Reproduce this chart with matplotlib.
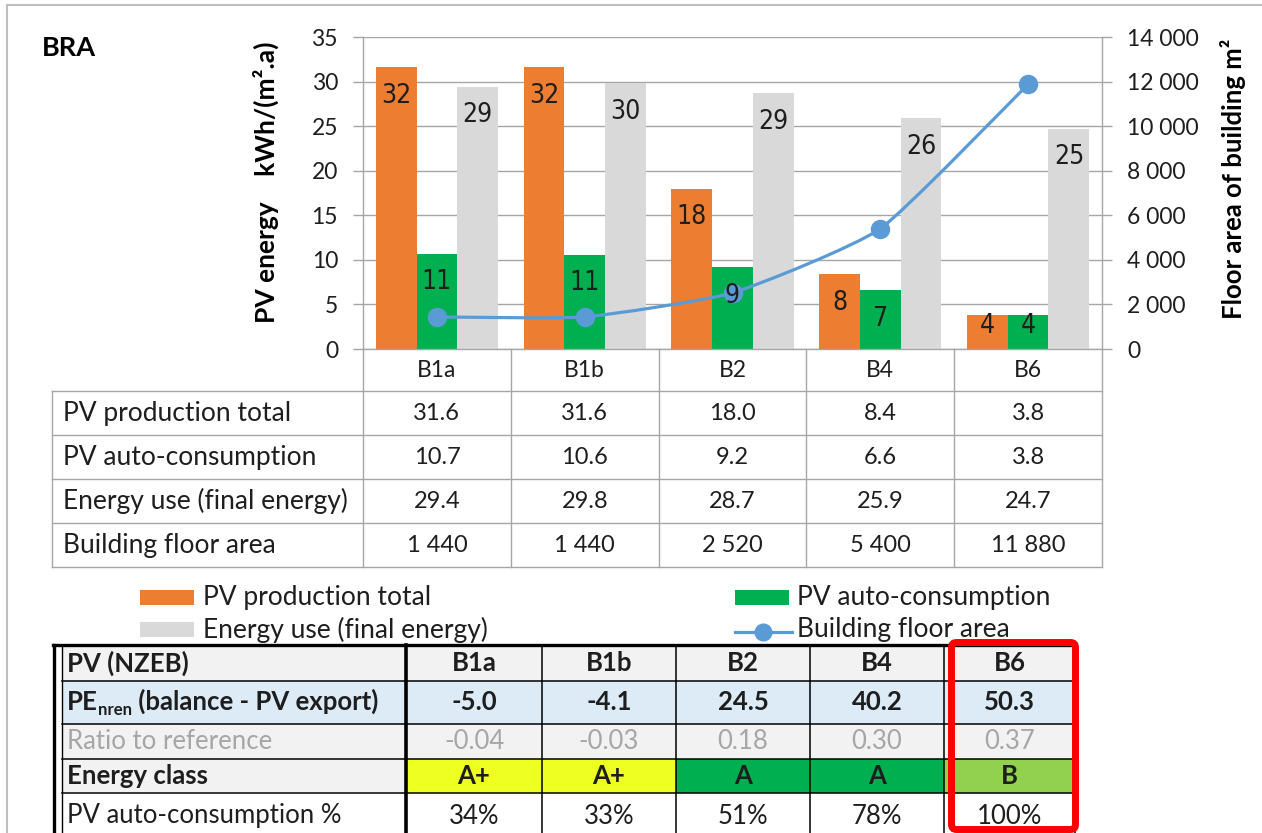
import numpy as np
import matplotlib
matplotlib.use('Agg')
import matplotlib.pyplot as plt
from matplotlib.patches import Rectangle, FancyBboxPatch, PathPatch
from matplotlib.path import Path
from matplotlib.ticker import FuncFormatter

# ---------------- data ----------------
categories = ['B1a', 'B1b', 'B2', 'B4', 'B6']
pv_total = [31.6, 31.6, 18.0, 8.4, 3.8]
pv_auto = [10.7, 10.6, 9.2, 6.6, 3.8]
energy_use = [29.4, 29.8, 28.7, 25.9, 24.7]
floor_area = [1440, 1440, 2520, 5400, 11880]
series_names = ['PV production total', 'PV auto-consumption',
                'Energy use (final energy)', 'Building floor area']
left_ticks = [0, 5, 10, 15, 20, 25, 30, 35]
right_ticks = [0, 2000, 4000, 6000, 8000, 10000, 12000, 14000]

nzeb_title = 'PV (NZEB)'
pe_nren = [-5.0, -4.1, 24.5, 40.2, 50.3]
ratio_ref = [-0.04, -0.03, 0.18, 0.30, 0.37]
energy_class = ['A+', 'A+', 'A', 'A', 'B']
auto_pct = [34, 33, 51, 78, 100]
class_colors = {'A+': '#EEFF22', 'A': '#00B050', 'B': '#92D050'}

ORANGE, GREEN, GREY, BLUE = '#ED7D31', '#00B050', '#D9D9D9', '#5B9BD5'
LINEGREY = '#A6A6A6'
TXT = '#1E1E1E'

plt.rcParams['font.family'] = ['Lato', 'DejaVu Sans']

W, H = 1262, 833
fig = plt.figure(figsize=(W / 100, H / 100), dpi=100)
fig.patch.set_facecolor('white')

AX_L, AX_R, AX_T, AX_B = 363, 1102, 37, 349
ax = fig.add_axes([AX_L / W, 1 - AX_B / H, (AX_R - AX_L) / W, (AX_B - AX_T) / H])

def thousands(v):
    return f"{int(round(v)):,}".replace(',', ' ')

x = np.arange(len(categories))
bw = 0.276
series = [(pv_total, ORANGE, -bw), (pv_auto, GREEN, 0.0), (energy_use, GREY, bw)]
for vals, col, off in series:
    ax.bar(x + off, vals, bw, color=col, zorder=2, linewidth=0)

ax.set_xlim(-0.5, len(categories) - 0.5)
ax.set_ylim(left_ticks[0], left_ticks[-1])
ax.set_yticks(left_ticks)
ax.set_xticks([])
ax.set_axisbelow(True)
ax.yaxis.grid(True, color=LINEGREY, linewidth=1.0)
for s in ['top', 'right']:
    ax.spines[s].set_visible(False)
for s in ['left', 'bottom']:
    ax.spines[s].set_color(LINEGREY)
    ax.spines[s].set_linewidth(1.0)
ax.tick_params(axis='y', direction='out', length=7, width=1, color=LINEGREY,
               pad=11, labelsize=16.5, labelcolor=TXT)

ax2 = ax.twinx()
ax2.set_ylim(right_ticks[0], right_ticks[-1])
ax2.set_yticks(right_ticks)
ax2.yaxis.set_major_formatter(FuncFormatter(lambda v, p: thousands(v)))
for s in ['top', 'left', 'bottom']:
    ax2.spines[s].set_visible(False)
ax2.spines['right'].set_color(LINEGREY)
ax2.spines['right'].set_linewidth(1.0)
ax2.tick_params(axis='y', direction='out', length=7, width=1, color=LINEGREY,
                pad=11, labelsize=16.5, labelcolor=TXT)
ax2.set_autoscale_on(False)

# smoothed line (cardinal spline -> cubic Bezier, computed in display space)
TENS = 1.0 / 12.0
pts = ax2.transData.transform(np.column_stack([x, floor_area]))
n = len(pts)
verts = [pts[0]]
codes = [Path.MOVETO]
for i in range(n - 1):
    p0 = pts[i - 1] if i > 0 else pts[i]
    p1, p2 = pts[i], pts[i + 1]
    p3 = pts[i + 2] if i + 2 < n else pts[i + 1]
    verts += [p1 + (p2 - p0) * TENS, p2 - (p3 - p1) * TENS, p2]
    codes += [Path.CURVE4] * 3
dverts = ax2.transData.inverted().transform(np.array(verts))
ax2.add_patch(PathPatch(Path(dverts, codes), fill=False, edgecolor=BLUE,
                        linewidth=2.3, zorder=3, capstyle='round'))
ax2.plot(x, floor_area, 'o', color=BLUE, markersize=13, zorder=4)

# bar value labels
for vals, col, off in series:
    for xi, v in zip(x, vals):
        yv = v - 3.2 if v >= 6 else v / 2 + 0.7
        ax2.text(xi + off, yv, f"{v:.0f}", transform=ax.transData,
                 ha='center', va='center', fontsize=19, family='DejaVu Sans',
                 fontstretch='condensed', color=TXT, zorder=10)

# ---------------- overlay in pixel coordinates ----------------
ov = fig.add_axes([0, 0, 1, 1])
ov.set_xlim(0, W)
ov.set_ylim(H, 0)
ov.axis('off')
ov.set_zorder(5)

# outer frame
ov.plot([7, 7], [5, H], color='#BFBFBF', lw=1.5)
ov.plot([7, W], [5, 5], color='#BFBFBF', lw=1.5)

ov.text(42, 48, 'BRA', fontsize=19.5, fontweight='bold', va='center', ha='left', color='black')
ov.text(266, 182, 'PV energy    kWh/(m\u00b2.a)', rotation=90, fontsize=19,
        fontweight='bold', ha='center', va='center', color='black')
ov.text(1233, 179, 'Floor area of building m\u00b2', rotation=90, fontsize=18.5,
        fontweight='bold', ha='center', va='center', color='black')

# data table under the chart
FS1 = 19
FSV = 17
ncat = len(categories)
xb = [AX_L + i * (AX_R - AX_L) / ncat for i in range(ncat + 1)]
row_y = [391, 435, 479, 523, 567]
TBL_L = 52
for xv in xb:
    ov.plot([xv, xv], [AX_B, row_y[-1]], color=LINEGREY, lw=1.0)
for yv in row_y:
    ov.plot([TBL_L, AX_R], [yv, yv], color=LINEGREY, lw=1.0)
ov.plot([TBL_L, TBL_L], [row_y[0], row_y[-1]], color=LINEGREY, lw=1.0)
for i, c in enumerate(categories):
    ov.text((xb[i] + xb[i + 1]) / 2, (AX_B + row_y[0]) / 2, c, ha='center',
            va='center', fontsize=16.5, color=TXT)
table_rows = [
    [f"{v:.1f}" for v in pv_total],
    [f"{v:.1f}" for v in pv_auto],
    [f"{v:.1f}" for v in energy_use],
    [thousands(v) for v in floor_area],
]
for r, (name, vals) in enumerate(zip(series_names, table_rows)):
    yc = (row_y[r] + row_y[r + 1]) / 2
    ov.text(63, yc, name, ha='left', va='center', fontsize=FS1, color=TXT)
    for i, s in enumerate(vals):
        ov.text((xb[i] + xb[i + 1]) / 2, yc, s, ha='center', va='center',
                fontsize=FSV, color=TXT)

# legend
ov.add_patch(Rectangle((140, 590), 54, 15, color=ORANGE, lw=0))
ov.text(203, 597, series_names[0], fontsize=FS1, va='center', color=TXT)
ov.add_patch(Rectangle((735, 590), 54, 15, color=GREEN, lw=0))
ov.text(797, 597, series_names[1], fontsize=FS1, va='center', color=TXT)
ov.add_patch(Rectangle((140, 622), 54, 15, color=GREY, lw=0))
ov.text(203, 630, series_names[2], fontsize=FS1, va='center', color=TXT)
ov.plot([735, 792], [632, 632], color=BLUE, lw=2.3)
ov.plot([763], [632], 'o', color=BLUE, markersize=12)
ov.text(797, 630, series_names[3], fontsize=FS1, va='center', color=TXT)

# bottom NZEB table
bx = [62, 406, 542, 676, 810, 944, 1075]
by = [645, 681, 724, 759, 793, 845]
row_bg = ['#F2F2F2', '#DDEBF7', '#F2F2F2', '#F2F2F2', 'white']
for r in range(5):
    for c in range(6):
        col = row_bg[r]
        if r == 3 and c > 0:
            col = class_colors[energy_class[c - 1]]
        ov.add_patch(Rectangle((bx[c], by[r]), bx[c + 1] - bx[c], by[r + 1] - by[r],
                               facecolor=col, edgecolor='none', zorder=1))
for yv in by[1:5]:
    ov.plot([bx[0], bx[-1]], [yv, yv], color='black', lw=1.1, zorder=2)
for xv in bx[2:]:
    ov.plot([xv, xv], [by[0], H], color='black', lw=1.1, zorder=2)
ov.plot([bx[0], bx[0]], [by[0], H], color='black', lw=1.0, zorder=2)
ov.plot([53, bx[-1]], [by[0], by[0]], color='black', lw=2.4, zorder=3)
ov.plot([54, 54], [by[0], H], color='black', lw=2.4, zorder=3)
ov.plot([bx[1], bx[1]], [by[0], H], color='black', lw=2.6, zorder=3)

FS2 = 18.5
LX = 67
cx = [(bx[c] + bx[c + 1]) / 2 for c in range(1, 6)]
ycen = [(by[r] + by[r + 1]) / 2 for r in range(4)] + [816]
# header
ov.text(LX, ycen[0], nzeb_title, fontsize=FS2, fontweight='bold', va='center', color=TXT, zorder=4)
for i, c in enumerate(categories):
    ov.text(cx[i], ycen[0], c, fontsize=FS2, fontweight='bold', ha='center', va='center', color=TXT, zorder=4)
# PE nren row
t1 = ov.text(LX, ycen[1] + 8, 'PE', fontsize=FS2, fontweight='bold', va='baseline', color=TXT, zorder=4)
t2 = ov.annotate('nren', xy=(1, 0), xycoords=t1, xytext=(0, -2.5), textcoords='offset points',
                 fontsize=FS2 * 0.65, fontweight='bold', va='bottom', ha='left', color=TXT, zorder=4)
ov.annotate(' (balance - PV export)', xy=(1, 0), xycoords=(t2, t1), fontsize=FS2,
            fontweight='bold', va='bottom', ha='left', color=TXT, zorder=4)
for i, v in enumerate(pe_nren):
    ov.text(cx[i], ycen[1], f"{v:.1f}", fontsize=FS2, fontweight='bold', ha='center', va='center', color=TXT, zorder=4)
# ratio row
ov.text(LX, ycen[2], 'Ratio to reference', fontsize=FS2, va='center', color='#A6A6A6', zorder=4)
for i, v in enumerate(ratio_ref):
    ov.text(cx[i], ycen[2], f"{v:.2f}", fontsize=FS2, ha='center', va='center', color='#A6A6A6', zorder=4)
# class row
ov.text(LX, ycen[3], 'Energy class', fontsize=FS2, fontweight='bold', va='center', color=TXT, zorder=4)
for i, v in enumerate(energy_class):
    ov.text(cx[i], ycen[3], v, fontsize=FS2, fontweight='bold', ha='center', va='center', color=TXT, zorder=4)
# auto-consumption row
ov.text(LX, ycen[4], 'PV auto-consumption %', fontsize=FS2, va='center', color=TXT, zorder=4)
for i, v in enumerate(auto_pct):
    ov.text(cx[i], ycen[4], f"{v}%", fontsize=FS2, ha='center', va='center', color=TXT, zorder=4)

# red highlight around last column
ov.add_patch(FancyBboxPatch((951.5, 642.5), 124, 187, boxstyle='round,pad=0,rounding_size=5',
                            fill=False, edgecolor='#FF0000', linewidth=5, zorder=6))

fig.savefig('out.png', dpi=100, facecolor='white')
